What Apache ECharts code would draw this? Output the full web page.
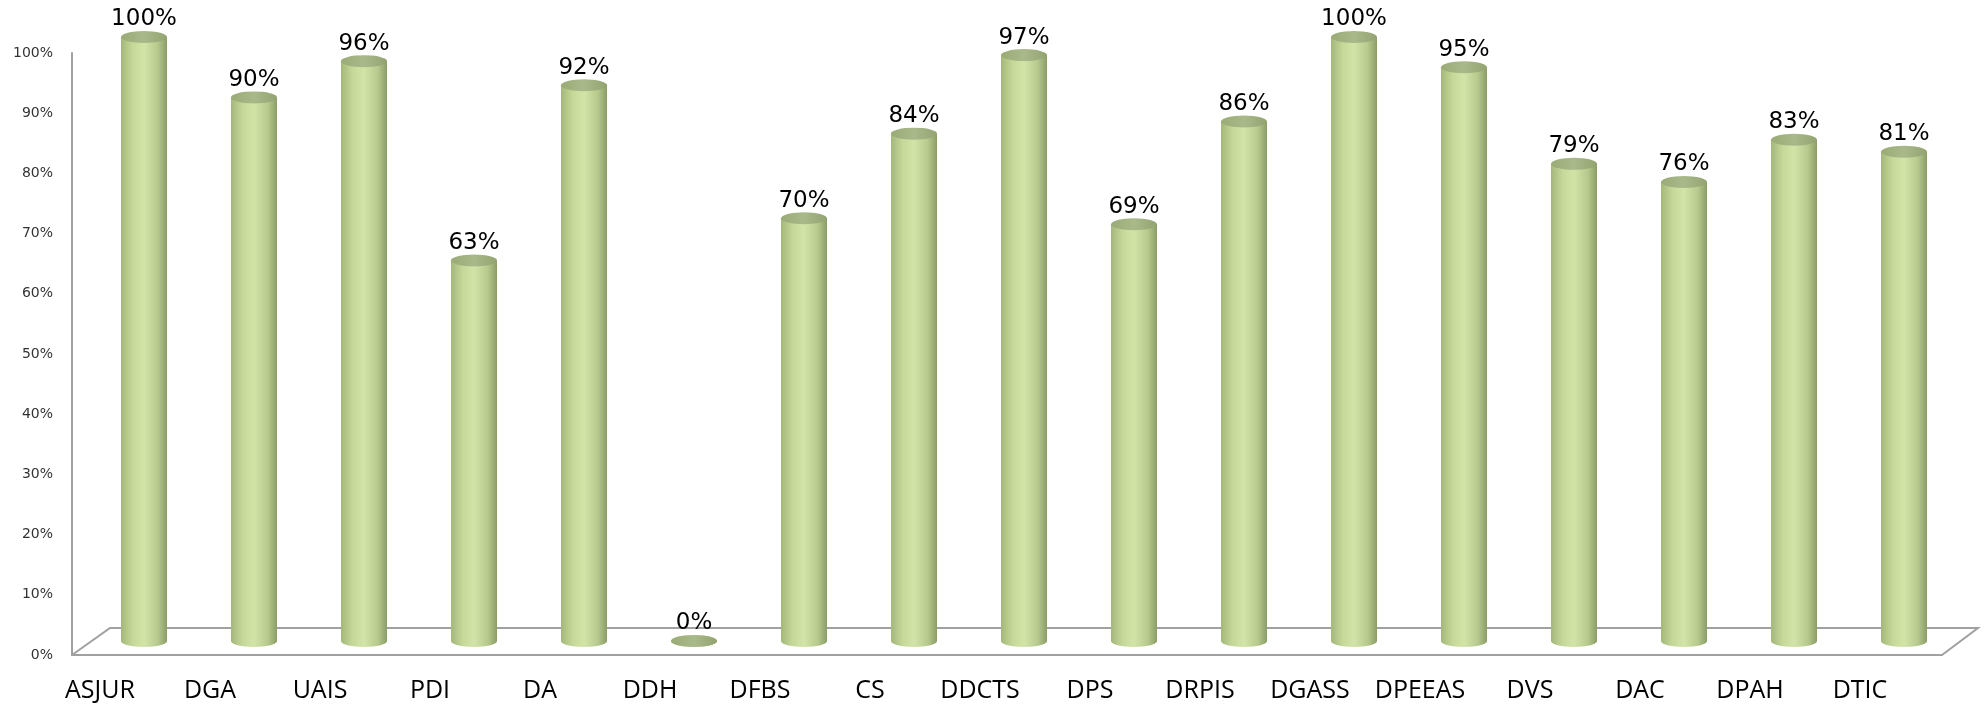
<!DOCTYPE html>
<html>
<head>
<meta charset="utf-8">
<script src="https://cdn.jsdelivr.net/npm/echarts@6/dist/echarts.min.js"></script>
<style>
  html, body { margin: 0; padding: 0; background: #fff; }
  #chart { width: 1986px; height: 707px; }
</style>
</head>
<body>
<div id="chart"></div>
<script>
// categories and values
const units = ['ASJUR', 'DGA', 'UAIS', 'PDI', 'DA', 'DDH', 'DFBS', 'CS', 'DDCTS',
  'DPS', 'DRPIS', 'DGASS', 'DPEEAS', 'DVS', 'DAC', 'DPAH', 'DTIC'];
const rates = [100, 90, 96, 63, 92, 0, 70, 84, 97, 69, 86, 100, 95, 79, 76, 83, 81];
const yTicks = [0, 100, 10]; // min, max, step

const chart = echarts.init(document.getElementById('chart'));

// cylinder body: dark edges, light middle
const bodyColor = new echarts.graphic.LinearGradient(0, 0, 1, 0, [
  { offset: 0, color: '#a4b77c' },
  { offset: 0.25, color: '#c6d898' },
  { offset: 0.5, color: '#d3e4a8' },
  { offset: 0.8, color: '#b7c98c' },
  { offset: 1, color: '#8c9c68' }
]);
const capColor = new echarts.graphic.LinearGradient(0, 0, 1, 0, [
  { offset: 0, color: '#9aab76' },
  { offset: 0.5, color: '#a9b98a' },
  { offset: 1, color: '#93a370' }
]);
const lineGray = '#a0a0a0';

var option = {
  backgroundColor: '#ffffff',
  animation: false,
  grid: [
    // front plane: axis labels + floor front edge
    { left: 72, right: 44, top: 53, bottom: 52 },
    // back plane: the cylinders sit a bit deeper
    { left: 89, right: 27, top: 37, bottom: 66 }
  ],
  xAxis: [
    {
      gridIndex: 0,
      type: 'category',
      data: units,
      axisLine: { show: true, lineStyle: { color: lineGray, width: 2 } },
      axisTick: { show: false },
      axisLabel: {
        interval: 0,
        hideOverlap: false,
        margin: 23,
        fontFamily: 'Open Sans',
        fontSize: 25,
        color: '#000',
        padding: [0, 54, 0, 0]
      }
    },
    {
      gridIndex: 1,
      type: 'category',
      data: units,
      show: false
    }
  ],
  yAxis: [
    {
      gridIndex: 0,
      type: 'value',
      min: yTicks[0],
      max: yTicks[1],
      interval: yTicks[2],
      axisLine: { show: true, lineStyle: { color: lineGray, width: 2 } },
      axisTick: { show: false },
      splitLine: { show: false },
      axisLabel: {
        margin: 19,
        fontFamily: 'DejaVu Sans',
        fontSize: 14,
        color: '#333',
        formatter: '{value}%'
      }
    },
    {
      gridIndex: 1,
      type: 'value',
      min: yTicks[0],
      max: yTicks[1],
      show: false
    }
  ],
  graphic: [
    {
      type: 'polyline',
      shape: { points: [[72, 655], [110, 628], [1978, 628], [1942, 655]] },
      style: { stroke: lineGray, lineWidth: 2, fill: null },
      z: 1
    }
  ],
  series: [
    {
      // bottom rim of each cylinder
      type: 'pictorialBar',
      xAxisIndex: 1,
      yAxisIndex: 1,
      symbol: 'circle',
      symbolSize: [46, 12],
      symbolPosition: 'start',
      symbolOffset: [0, '50%'],
      itemStyle: { color: bodyColor },
      data: rates,
      z: 3
    },
    {
      type: 'bar',
      xAxisIndex: 1,
      yAxisIndex: 1,
      barWidth: 46,
      itemStyle: { color: bodyColor },
      label: {
        show: true,
        position: 'top',
        distance: 6,
        fontFamily: 'DejaVu Sans',
        fontSize: 23,
        color: '#000',
        formatter: '{c}%'
      },
      data: rates,
      z: 4
    },
    {
      // top lid
      type: 'pictorialBar',
      xAxisIndex: 1,
      yAxisIndex: 1,
      symbol: 'circle',
      symbolSize: [46, 12],
      symbolPosition: 'end',
      symbolOffset: [0, '-50%'],
      itemStyle: { color: capColor },
      data: rates,
      z: 5
    }
  ]
};

chart.setOption(option);
</script>
</body>
</html>
